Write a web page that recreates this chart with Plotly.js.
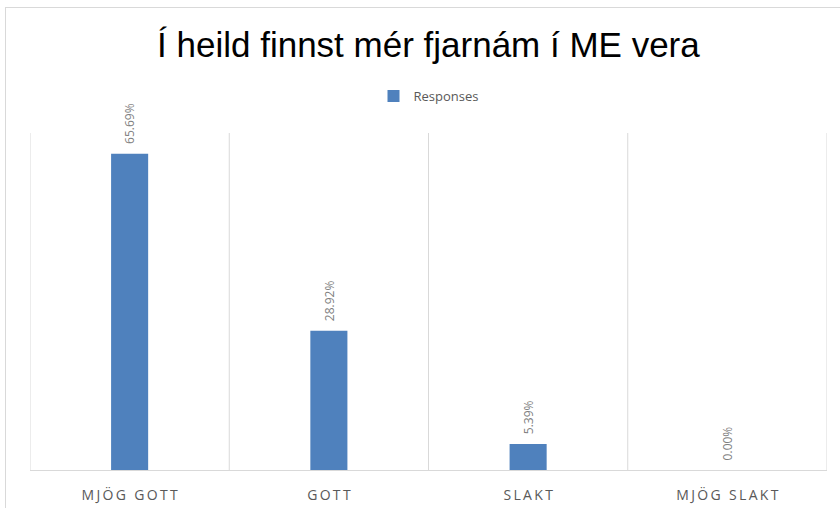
<!DOCTYPE html>
<html>
<head>
<meta charset="utf-8">
<script src="https://cdn.plot.ly/plotly-3.0.1.min.js"></script>
<style>
  body { margin: 0; background: #fff; }
  #frame { position: absolute; left: 5px; top: 7px; width: 840px; height: 510px;
           border-left: 1px solid #d9d9d9; border-top: 1px solid #d9d9d9; }
  #chart { position: absolute; left: 0; top: 0; width: 840px; height: 508px; }
</style>
</head>
<body>
<div id="frame"></div>
<div id="chart"></div>
<script>
// survey answers and share of responses (%)
var categories = ["MJÖG GOTT", "GOTT", "SLAKT", "MJÖG SLAKT"];
var responses = [65.69, 28.92, 5.39, 0.00];
var seriesName = "Responses";

// spread letters out like the original axis labels
function spaced(s) {
  return s.split("").join("\u2009");
}
var tickText = categories.map(spaced);
var xPos = categories.map(function (c, i) { return i; });

var trace = {
  x: xPos,
  y: responses,
  name: seriesName,
  type: 'bar',
  marker: { color: '#4f81bd' },
  hoverinfo: 'none'
};

// value labels above each bar, rotated
var labels = responses.map(function (v, i) {
  return {
    x: i, y: v, xref: 'x', yref: 'y',
    text: v.toFixed(2) + '%',
    textangle: -90,
    showarrow: false,
    yanchor: 'bottom',
    yshift: 8,
    font: { family: 'Open Sans, sans-serif', size: 12, color: '#7f7f7f' }
  };
});

// category boundaries for the vertical grid lines
var bounds = [];
for (var i = 0; i <= categories.length; i++) {
  bounds.push({
    type: 'line', xref: 'x', yref: 'paper',
    x0: i - 0.5, x1: i - 0.5, y0: 0, y1: 1,
    line: { color: '#d9d9d9', width: 1 }
  });
}

var layout = {
  width: 840,
  height: 508,
  margin: { l: 30, r: 13, t: 133, b: 38 },
  paper_bgcolor: 'rgba(0,0,0,0)',
  plot_bgcolor: 'rgba(0,0,0,0)',
  title: {
    text: 'Í heild finnst mér fjarnám í ME vera',
    font: { family: 'Liberation Sans, Arial, sans-serif', size: 35, color: '#000' },
    x: 0.51, xanchor: 'center',
    y: 0.912, yanchor: 'middle'
  },
  showlegend: true,
  legend: {
    orientation: 'h',
    x: 0.5, xanchor: 'center',
    y: 1.11, yanchor: 'middle',
    font: { family: 'Open Sans, sans-serif', size: 13, color: '#595959' },
    itemwidth: 30
  },
  bargap: 0.814,
  xaxis: {
    range: [-0.5, categories.length - 0.5],
    tickvals: xPos,
    ticktext: tickText,
    showgrid: false,
    zeroline: false,
    showline: true,
    linecolor: '#d9d9d9',
    linewidth: 1,
    ticks: '',
    ticklabelstandoff: 12,
    tickfont: { family: 'Open Sans, sans-serif', size: 14, color: '#595959' }
  },
  yaxis: {
    range: [0, 70],
    showgrid: false,
    zeroline: false,
    showline: false,
    showticklabels: false,
    ticks: ''
  },
  shapes: bounds,
  annotations: labels
};

Plotly.newPlot('chart', [trace], layout, { displayModeBar: false, staticPlot: true });
</script>
</body>
</html>
